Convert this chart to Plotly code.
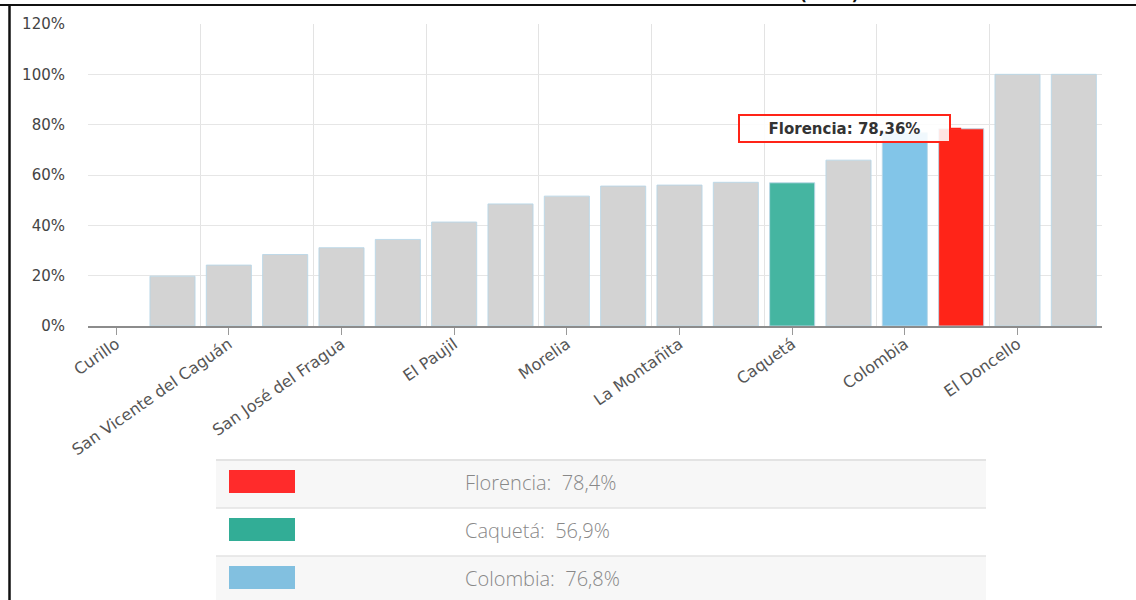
import plotly.graph_objects as go

# ---------------- data ----------------
categories = ["Curillo", "Solano", "San Vicente del Caguán", "Solita", "San José del Fragua",
              "Cartagena del Chairá", "El Paujil", "Milán", "Morelia", "Valparaíso",
              "La Montañita", "Puerto Rico", "Caquetá", "Belén de los Andaquíes",
              "Colombia", "Florencia", "El Doncello", "Albania"]
values = [0.0, 19.8, 24.2, 28.4, 31.1, 34.4, 41.3, 48.5, 51.6, 55.6,
          56.0, 57.1, 56.9, 65.9, 76.8, 78.36, 100.0, 100.0]
highlight_names = ["Florencia", "Caquetá", "Colombia"]
highlight_bar_colors = ["#ff2418", "#45b5a1", "#82c5e8"]
highlight_legend_colors = ["#ff2b2b", "#32ad96", "#82c0e0"]
y_ticks = [0, 20, 40, 60, 80, 100, 120]
y_tick_labels = ["0%", "20%", "40%", "60%", "80%", "100%", "120%"]
title_text = "Tasa de cobertura neta (2018)"
tooltip_name = "Florencia"

# ---------------- layout helpers ----------------
W, H = 1136, 600
PL, PR, PT, PB = 88, 1102, 24, 326


def fx(px):
    return (px - PL) / (PR - PL)


def fy(py):
    return (PB - py) / (PB - PT)


xs = list(range(len(categories)))
gray = "#d3d3d3"
bar_colors = []
for c in categories:
    if c in highlight_names:
        bar_colors.append(highlight_bar_colors[highlight_names.index(c)])
    else:
        bar_colors.append(gray)
line_widths = [0 if v == 0 else 1 for v in values]

fig = go.Figure()
fig.add_trace(go.Bar(
    x=xs, y=values,
    marker=dict(color=bar_colors, line=dict(color="rgba(185,215,232,0.9)", width=line_widths)),
    width=0.8,
    hovertext=categories, hoverinfo="text+y",
))

shapes = []
annotations = []

# ---- outer black frame (top + left) ----
shapes.append(dict(type="line", xref="paper", yref="paper",
                   x0=fx(0), x1=fx(W), y0=fy(5), y1=fy(5),
                   line=dict(color="#111", width=2.2)))
shapes.append(dict(type="line", xref="paper", yref="paper",
                   x0=fx(9.5), x1=fx(9.5), y0=fy(4), y1=fy(H),
                   line=dict(color="#111", width=2.5)))

# ---- title (mostly cut off at the top, as in the source) ----
annotations.append(dict(text="<b>" + title_text + "</b>", xref="paper", yref="paper",
                        x=fx(860), y=fy(5.5), xanchor="right", yanchor="bottom",
                        showarrow=False, borderpad=0,
                        font=dict(family="DejaVu Sans", size=16, color="#111")))

# ---- tooltip callout ----
fi = categories.index(tooltip_name)
tooltip_label = f"{tooltip_name}: {values[fi]:.2f}".replace(".", ",") + "%"
annotations.append(dict(
    x=xs[fi], y=values[fi], xref="x", yref="y",
    text="<b>" + tooltip_label + "</b>",
    showarrow=True, arrowhead=0, arrowwidth=2, arrowcolor="#ff2418",
    ax=-117, ay=0, standoff=0,
    width=205, height=21, align="center",
    bgcolor="rgba(255,255,255,0.88)", bordercolor="#ff2418", borderwidth=2, borderpad=2,
    font=dict(family="DejaVu Sans", size=15, color="#333"),
))

# ---- legend table below ----
TL, TR = 216, 986
row_h = 48
row_top = 460
row_fills = ["#f7f7f7", "#ffffff", "#f7f7f7"]
for i, name in enumerate(highlight_names):
    y0 = row_top + i * row_h
    y1 = min(y0 + row_h, H)
    shapes.append(dict(type="rect", xref="paper", yref="paper",
                       x0=fx(TL), x1=fx(TR), y0=fy(y1), y1=fy(y0),
                       fillcolor=row_fills[i], line=dict(width=0), layer="below"))
    shapes.append(dict(type="line", xref="paper", yref="paper",
                       x0=fx(TL), x1=fx(TR), y0=fy(y0), y1=fy(y0),
                       line=dict(color="#e3e3e3", width=2 if i == 0 else 1.5)))
    shapes.append(dict(type="rect", xref="paper", yref="paper",
                       x0=fx(229), x1=fx(295), y0=fy(y0 + 33), y1=fy(y0 + 10),
                       fillcolor=highlight_legend_colors[i], line=dict(width=0)))
    v = values[categories.index(name)]
    label = f"{name}:\u00a0\u00a0{v:.1f}".replace(".", ",") + "%"
    annotations.append(dict(text=label, xref="paper", yref="paper",
                            x=fx(463), y=fy(y0 + 22), xanchor="left", yanchor="middle",
                            showarrow=False,
                            font=dict(family="Open Sans", size=20, color="#888888", weight=300)))

fig.update_layout(
    width=W, height=H,
    margin=dict(l=PL, r=W - PR, t=PT, b=H - PB, pad=0),
    paper_bgcolor="white", plot_bgcolor="white",
    showlegend=False,
    bargap=0.2,
    shapes=shapes,
    annotations=annotations,
    xaxis=dict(
        range=[-0.5, len(categories) - 0.5],
        tickmode="array",
        tickvals=xs[::2],
        ticktext=categories[::2],
        tickangle=-35,
        ticks="outside", ticklen=7, tickcolor="#999", tickwidth=1,
        ticklabelstandoff=-6,
        showgrid=False, zeroline=False,
        showline=True, linecolor="#8c8c8c", linewidth=1.5,
        tickfont=dict(family="DejaVu Sans", size=16, color="#555"),
        minor=dict(tickmode="array",
                   tickvals=[x - 0.5 for x in xs[::2]] + [len(categories) - 0.5],
                   showgrid=True, gridcolor="#e3e3e3", gridwidth=1, ticks=""),
    ),
    yaxis=dict(
        range=[0, 120],
        tickmode="array", tickvals=y_ticks, ticktext=y_tick_labels,
        showgrid=True, gridcolor="#e6e6e6", gridwidth=1,
        zeroline=False, showline=False, ticks="",
        ticklabelstandoff=22,
        tickfont=dict(family="DejaVu Sans", size=15, color="#444"),
    ),
)

fig.write_html("out.html", config={"displayModeBar": False},
               post_script="document.body.style.margin='0';")
